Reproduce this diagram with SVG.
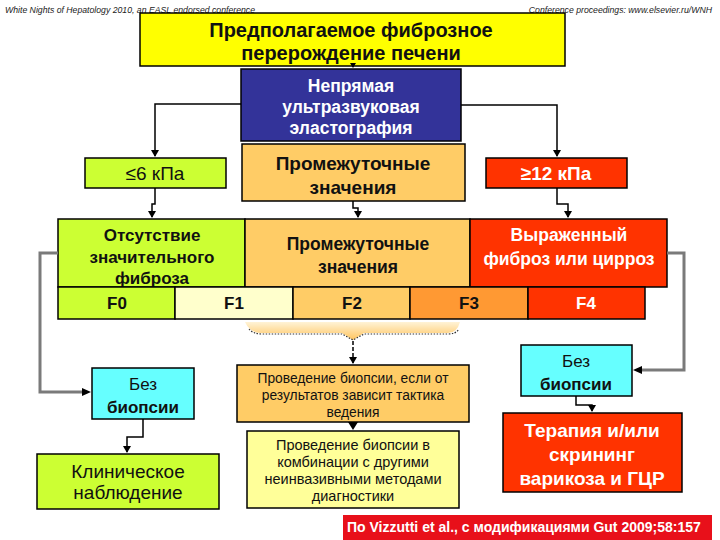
<svg xmlns="http://www.w3.org/2000/svg" width="720" height="540" viewBox="0 0 720 540">
<defs>
<marker id="ah" markerWidth="8" markerHeight="8" refX="6" refY="4" orient="auto" markerUnits="userSpaceOnUse"><path d="M0,0 L7,4 L0,8 z" fill="#000"/></marker>
<linearGradient id="brace" x1="0" y1="0" x2="0" y2="1"><stop offset="0" stop-color="#FFF3D6"/><stop offset="1" stop-color="#FFC45E"/></linearGradient>
</defs>
<style>
text{font-family:"Liberation Sans",Arial,sans-serif;text-anchor:middle}
.hd{font-size:8.7px;font-style:italic;text-anchor:start;fill:#222}
.b{stroke:#000;stroke-width:1.5}
.t{font-weight:bold;fill:#111}
.w{font-weight:bold;fill:#fff}
.r{fill:#111}
.c{fill:none;stroke:#000;stroke-width:1.5}
.g{fill:none;stroke:#7a7a7a;stroke-width:3}
</style>
<rect width="720" height="540" fill="#fff"/>
<text class="hd" x="5" y="13">White Nights of Hepatology 2010, an EASL endorsed conference</text>
<text class="hd" x="712" y="13" style="text-anchor:end">Conference proceedings: www.elsevier.ru/WNH</text>

<g id="title"><rect class="b" x="140" y="13" width="425" height="53" fill="#FFFF00" stroke-width="2"/>
<text class="t" x="351" y="37" font-size="20">Предполагаемое фиброзное</text>
<text class="t" x="351" y="60" font-size="20">перерождение печени</text></g>

<g id="elasto"><rect class="b" x="241" y="69" width="220" height="72" fill="#333399"/>
<text class="w" x="351" y="92" font-size="17.5">Непрямая</text>
<text class="w" x="351" y="113" font-size="17.5">ультразвуковая</text>
<text class="w" x="351" y="134" font-size="17.5">эластография</text></g>

<g id="le6"><rect class="b" x="85" y="158" width="141" height="30" fill="#CCFF33"/>
<text class="r" x="155" y="180" font-size="19">≤6 кПа</text></g>

<g id="mid1"><rect class="b" x="242" y="144" width="223" height="57" fill="#FFCC66"/>
<text class="t" x="353" y="170" font-size="19">Промежуточные</text>
<text class="t" x="353" y="194" font-size="19">значения</text></g>

<g id="ge12"><rect class="b" x="486" y="158" width="141" height="30" fill="#FF3300"/>
<text class="w" x="556" y="180" font-size="19">≥12 кПа</text></g>

<g id="nofib"><rect class="b" x="58" y="219" width="187" height="68" fill="#CCFF33"/>
<text class="t" x="152" y="241" font-size="17">Отсутствие</text>
<text class="t" x="152" y="263" font-size="17">значительного</text>
<text class="t" x="152" y="284" font-size="17">фиброза</text></g>

<g id="mid2"><rect class="b" x="245" y="219" width="225" height="68" fill="#FFCC66"/>
<text class="t" x="358" y="250" font-size="17.5">Промежуточные</text>
<text class="t" x="358" y="273" font-size="17.5">значения</text></g>

<g id="cirr"><rect class="b" x="470" y="219" width="197" height="68" fill="#FF3300"/>
<text class="w" x="569" y="241" font-size="17.5">Выраженный</text>
<text class="w" x="569" y="265" font-size="17.5">фиброз или цирроз</text></g>

<g id="frow">
<rect class="b" x="58" y="287" width="117" height="32" fill="#CCFF33"/>
<rect class="b" x="175" y="287" width="118" height="32" fill="#FFFFCC"/>
<rect class="b" x="293" y="287" width="117" height="32" fill="#FFCC66"/>
<rect class="b" x="410" y="287" width="118" height="32" fill="#FF9933"/>
<rect class="b" x="528" y="287" width="117" height="32" fill="#FF3300"/>
<text class="t" x="117" y="309" font-size="17">F0</text>
<text class="t" x="234" y="309" font-size="17">F1</text>
<text class="t" x="352" y="309" font-size="17">F2</text>
<text class="t" x="469" y="309" font-size="17">F3</text>
<text class="w" x="586" y="309" font-size="17">F4</text>
</g>

<g id="brace">
<path d="M245,322 Q250,333 262,333 L342,333 L353,340 L364,333 L448,333 Q457,333 460,322 Z" fill="url(#brace)"/>
<path d="M249,329 Q253,334 262,334 L342,334 L353,340 L364,334 L448,334 Q456,334 459,329" fill="none" stroke="#333" stroke-width="1.2" stroke-dasharray="1.5,1.5"/>
</g>

<g id="nobx1"><rect class="b" x="92" y="368" width="102" height="51" fill="#66FFFF"/>
<text class="r" x="143" y="390" font-size="17">Без</text>
<text class="t" x="143" y="413" font-size="17">биопсии</text></g>

<g id="clin"><rect class="b" x="37" y="454" width="182" height="55" fill="#CCFF33"/>
<text class="r" x="128" y="478" font-size="19">Клиническое</text>
<text class="r" x="128" y="499" font-size="19">наблюдение</text></g>

<g id="biop1"><rect class="b" x="237" y="365" width="232" height="57" fill="#FFCC66"/>
<text class="r" x="353" y="383" font-size="13.8">Проведение биопсии, если от</text>
<text class="r" x="353" y="400" font-size="13.8">результатов зависит тактика</text>
<text class="r" x="353" y="417" font-size="13.8">ведения</text></g>

<g id="biop2"><rect class="b" x="247" y="431" width="212" height="77" fill="#FFFF99"/>
<text class="r" x="353" y="450" font-size="14.5">Проведение биопсии в</text>
<text class="r" x="353" y="467" font-size="14.5">комбинации с другими</text>
<text class="r" x="353" y="484" font-size="14.5">неинвазивными методами</text>
<text class="r" x="353" y="501" font-size="14.5">диагностики</text></g>

<g id="nobx2"><rect class="b" x="521" y="345" width="111" height="51" fill="#66FFFF"/>
<text class="r" x="576" y="367" font-size="17">Без</text>
<text class="t" x="576" y="390" font-size="17">биопсии</text></g>

<g id="ther"><rect class="b" x="503" y="413" width="179" height="79" fill="#FF3300"/>
<text class="w" x="592" y="437" font-size="19">Терапия и/или</text>
<text class="w" x="592" y="461" font-size="19">скрининг</text>
<text class="w" x="592" y="485" font-size="19">варикоза и ГЦР</text></g>

<g id="source"><rect x="343" y="515" width="369" height="25" fill="#E8101A"/>
<text class="w" x="347" y="532" font-size="14" style="text-anchor:start">По Vizzutti et al., с модификациями Gut 2009;58:157</text></g>

<g id="connectors">
<path d="M350,63 L356,63 L353,68 Z" fill="#000"/>
<path class="c" d="M241,104 H155 V156" marker-end="url(#ah)"/>
<path class="c" d="M461,105 H557 V156" marker-end="url(#ah)"/>
<path class="c" d="M155,188 V204 H152 V217" marker-end="url(#ah)"/>
<path class="c" d="M353,201 V208 H358 V217" marker-end="url(#ah)"/>
<path class="c" d="M557,188 V204 H568 V217" marker-end="url(#ah)"/>
<path class="g" d="M58,253 H40 V392 H82"/>
<path d="M82,388 L91,392 L82,396 Z" fill="#000"/>
<path class="g" d="M667,253 H684 V370 H642"/>
<path d="M642,366 L633,370 L642,374 Z" fill="#000"/>
<path class="c" d="M353,341 V363" stroke-dasharray="4,2" marker-end="url(#ah)"/>
<path d="M348,422 L358,422 L353,430 Z" fill="#000"/>
<path class="c" d="M143,419 V437 H127 V452" marker-end="url(#ah)"/>
<path class="c" d="M576,396 V405 H592 V411" marker-end="url(#ah)"/>
</g>
</svg>
